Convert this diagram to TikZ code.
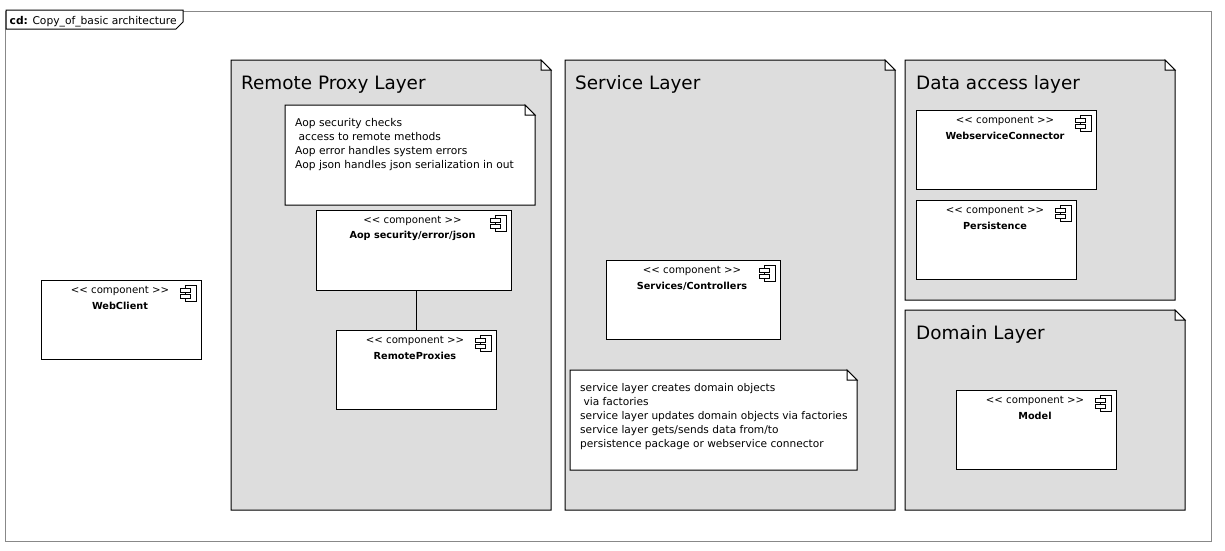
\documentclass[tikz,border=0pt]{standalone}
\usepackage{fontspec}
\setmainfont{DejaVu Sans}
\tikzset{
  x=1pt,y=-1pt,
  edge/.style={draw=black,line width=1pt},
  pkgbody/.style={edge,fill=pkggray},
  notebody/.style={edge,fill=white},
  comptext/.style={font=\fontsize{10.2}{12}\selectfont,inner sep=0pt,anchor=center},
  compname/.style={font=\fontsize{9.7}{12}\selectfont\bfseries,inner sep=0pt,anchor=center},
  pkgtitle/.style={font=\fontsize{18.4}{21}\selectfont,inner sep=0pt,anchor=base west},
  notetext/.style={font=\fontsize{10.7}{14}\selectfont,inner sep=0pt,anchor=north west,align=left},
  compbox/.style={edge,fill=white,rectangle,inner sep=0pt,outer sep=0pt,anchor=north west},
}
\definecolor{pkggray}{RGB}{221,221,221}
\definecolor{framegray}{RGB}{136,136,136}
% style, name, x1,y1,x2,y2 : box with a folded corner
\newcommand{\foldbox}[6]{%
  \path[#1] (#3,#4) -- (#5-10,#4) -- (#5,#4+10) -- (#5,#6) -- (#3,#6) -- cycle;
  \path[edge,fill=white] (#5-10,#4) -- (#5-10,#4+10) -- (#5,#4+10) -- cycle;
  \coordinate (#2) at (#3,#4);
}
% name, x1,y1,x2,y2, title
\newcommand{\compo}[6]{%
  \node[compbox,minimum width=#4-#2,minimum height=#5-#3] (#1) at (#2,#3) {};
  \draw[edge,fill=white] (#4-16,#3+5) rectangle (#4-5,#3+21);
  \draw[edge,fill=white] (#4-21,#3+8) rectangle (#4-11,#3+12);
  \draw[edge,fill=white] (#4-21,#3+14) rectangle (#4-11,#3+18);
  \node[comptext] (#1s) at ({(#2+#4)/2-1},#3+11) {<{}< component >{}>};
  \node[compname] (#1n) at ({(#2+#4)/2-1},#3+26) {#6};
}
\begin{document}
\begin{tikzpicture}
\useasboundingbox (0,0) rectangle (1225,550);
\fill[white] (0,0) rectangle (1225,550);
% frame
\node[draw=framegray,line width=1pt,rectangle,inner sep=0pt,outer sep=0pt,anchor=north west,minimum width=1206,minimum height=530] (frame) at (5,11) {};
\path[edge,fill=white] (6,10) -- (183,10) -- (183,22) -- (176,29) -- (6,29) -- cycle;
\node[inner sep=0pt,anchor=base west,font=\fontsize{10.7}{12}\selectfont] (tag) at (9.5,24) {\textbf{cd:} Copy\_of\_basic architecture};
% packages
\foldbox{pkgbody}{proxy}{231}{60}{551}{510}
\foldbox{pkgbody}{service}{565}{60}{895}{510}
\foldbox{pkgbody}{data}{905}{60}{1175}{300}
\foldbox{pkgbody}{domain}{905}{310}{1185}{510}
\node[pkgtitle] (proxyt) at (241,89.5) {Remote Proxy Layer};
\node[pkgtitle] (servicet) at (575,89.5) {Service Layer};
\node[pkgtitle] (datat) at (916,89.5) {Data access layer};
\node[pkgtitle] (domaint) at (916,339.5) {Domain Layer};
% notes
\foldbox{notebody}{note1}{285}{105}{535}{205}
\node[notetext] (note1t) at (295,118) {Aop security checks\\\ access to remote methods\\Aop error handles system errors\\Aop json handles json serialization in out};
\foldbox{notebody}{note2}{570}{370}{857}{470}
\node[notetext,font=\fontsize{10.6}{14}\selectfont] (note2t) at (580,383) {service layer creates domain objects\\\ via factories\\service layer updates domain objects via factories\\service layer gets/sends data from/to\\persistence package or webservice connector};
% components
\compo{web}{41}{280}{201}{359}{WebClient}
\compo{aop}{316}{210}{511}{290}{Aop security/error/json}
\compo{rem}{336}{330}{496}{409}{RemoteProxies}
\compo{svc}{606}{260}{780}{339}{Services/Controllers}
\compo{ws}{916}{110}{1096}{189}{WebserviceConnector}
\compo{per}{916}{200}{1076}{279}{Persistence}
\compo{mod}{956}{390}{1116}{469}{Model}
\draw[edge] (rem.north |- aop.south) -- (rem.north);
\end{tikzpicture}
\end{document}
